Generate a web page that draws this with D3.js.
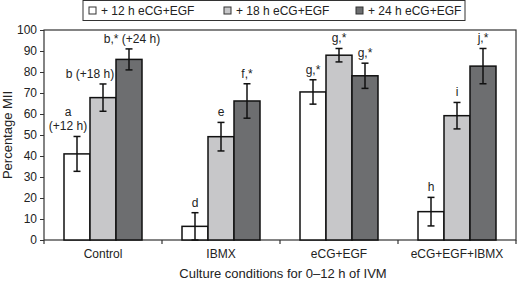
<!DOCTYPE html>
<html>
<head>
<meta charset="utf-8">
<script src="https://cdn.jsdelivr.net/npm/d3@7"></script>
<style>
  body { margin: 0; background: #fff; }
  svg { font-family: "Liberation Sans", Arial, sans-serif; }
</style>
</head>
<body>
<script>
      var w = 518; // width of SVG space
      var h = 281; // height of SVG space

      // categories and series
      var categories = ["Control", "IBMX", "eCG+EGF", "eCG+EGF+IBMX"];
      var series = ["+ 12 h eCG+EGF", "+ 18 h eCG+EGF", "+ 24 h eCG+EGF"];
      // mean values per series (one per category)
      var mean12 = [41, 6.5, 70.5, 13.5];
      var mean18 = [67.8, 49.2, 88, 59.2];
      var mean24 = [86, 66.2, 78.2, 82.8];
      // error bar half-lengths
      var err12 = [8.3, 6.5, 5.8, 6.8];
      var err18 = [6.5, 6.8, 3.2, 6.3];
      var err24 = [5, 8.2, 6, 8.4];
      // significance letters above the bars
      var labels12 = [["a", "(+12 h)"], ["d"], ["g,*"], ["h"]];
      var labels18 = [["b (+18 h)"], ["e"], ["g,*"], ["i"]];
      var labels24 = [["b,* (+24 h)"], ["f,*"], ["g,*"], ["j,*"]];
      var yTicks = [0, 10, 20, 30, 40, 50, 60, 70, 80, 90, 100];

      var fills = ["#ffffff", "#c7c7c9", "#6d6e70"];
      var means = [mean12, mean18, mean24];
      var errs = [err12, err18, err24];
      var labs = [labels12, labels18, labels24];
      // small nudges so the labels sit like in the figure
      var labelDx = [[-9, 0, 0, 0], [-13, 0, 0, 0], [3, 0, 0, 0]];

      var pLeft = 44, pRight = 516, pTop = 30, pBottom = 240;

      var svg = d3.select("body").append("svg").attr("width", w).attr("height", h);

      var x0 = d3.scaleBand().domain(categories).range([pLeft, pRight]);
      var x1 = d3.scaleBand().domain(d3.range(series.length)).range([20, x0.bandwidth() - 20]);
      var yScale = d3.scaleLinear().domain([0, 100]).range([pBottom, pTop]);

      // plot frame
      svg.append("rect").attr("x", pLeft).attr("y", pTop)
          .attr("width", pRight - pLeft).attr("height", pBottom - pTop)
          .style("fill", "none").style("stroke", "#333").style("stroke-width", 1.2);

      // bars, error bars, labels
      var data = [];
      categories.forEach(function (c, i) {
          series.forEach(function (s, j) {
              data.push({cat: c, ci: i, s: j, v: means[j][i], e: errs[j][i], lab: labs[j][i]});
          });
      });

      var g = svg.append("g");
      g.selectAll("rect.bar").data(data).enter().append("rect")
          .attr("class", "bar")
          .attr("x", function (d) { return x0(d.cat) + x1(d.s); })
          .attr("y", function (d) { return yScale(d.v); })
          .attr("width", x1.bandwidth())
          .attr("height", function (d) { return yScale(0) - yScale(d.v); })
          .style("fill", function (d) { return fills[d.s]; })
          .style("stroke", "#111")
          .style("stroke-width", 1.5);

      var cx = function (d) { return x0(d.cat) + x1(d.s) + x1.bandwidth() / 2; };
      var eb = g.selectAll("g.err").data(data).enter().append("g").attr("class", "err")
          .style("stroke", "#111").style("stroke-width", 1.5);
      eb.append("line")
          .attr("x1", cx).attr("x2", cx)
          .attr("y1", function (d) { return yScale(Math.max(0, d.v - d.e)); })
          .attr("y2", function (d) { return yScale(d.v + d.e); });
      eb.append("line")
          .attr("x1", function (d) { return cx(d) - 3.5; }).attr("x2", function (d) { return cx(d) + 3.5; })
          .attr("y1", function (d) { return yScale(d.v + d.e); })
          .attr("y2", function (d) { return yScale(d.v + d.e); });
      eb.append("line")
          .attr("x1", function (d) { return cx(d) - 3.5; }).attr("x2", function (d) { return cx(d) + 3.5; })
          .attr("y1", function (d) { return yScale(Math.max(0, d.v - d.e)); })
          .attr("y2", function (d) { return yScale(Math.max(0, d.v - d.e)); });

      var lt = g.selectAll("text.lab").data(data).enter().append("text")
          .attr("class", "lab")
          .attr("text-anchor", "middle")
          .style("font-size", "12px")
          .style("fill", "#222")
          .attr("x", function (d) { return cx(d) + labelDx[d.s][d.ci]; })
          .attr("y", function (d) { return yScale(d.v + d.e) - 6 - (d.lab.length - 1) * 14; });
      lt.each(function (d) {
          var t = d3.select(this);
          d.lab.forEach(function (l, k) {
              t.append("tspan").attr("x", cx(d) + labelDx[d.s][d.ci]).attr("dy", k ? 14 : 0).text(l);
          });
      });

      // axes
      var yAxis = d3.axisLeft(yScale).tickValues(yTicks).tickSize(4).tickPadding(3);
      var ya = svg.append("g").attr("transform", "translate(" + pLeft + ",0)").call(yAxis);
      ya.select(".domain").remove();
      ya.selectAll("text").style("font-size", "12px").style("fill", "#222").style("font-family", "Liberation Sans, Arial, sans-serif");
      ya.selectAll("line").style("stroke", "#333");

      var bounds = categories.map(function (c) { return x0(c); }).concat([pRight]);
      svg.selectAll("line.xt").data(bounds).enter().append("line")
          .attr("x1", function (d) { return d; }).attr("x2", function (d) { return d; })
          .attr("y1", pBottom).attr("y2", pBottom + 4)
          .style("stroke", "#333").style("stroke-width", 1.2);
      svg.selectAll("text.xl").data(categories).enter().append("text")
          .attr("x", function (d) { return x0(d) + x0.bandwidth() / 2; })
          .attr("y", 258)
          .attr("text-anchor", "middle")
          .style("font-size", "12px").style("fill", "#222")
          .text(function (d) { return d; });

      svg.append("text").attr("x", 283).attr("y", 278).attr("text-anchor", "middle")
          .style("font-size", "13px").style("fill", "#222")
          .text("Culture conditions for 0\u201312 h of IVM");
      svg.append("text").attr("transform", "translate(12," + ((pTop + pBottom) / 2) + ") rotate(-90)")
          .attr("text-anchor", "middle")
          .style("font-size", "13px").style("fill", "#222")
          .text("Percentage MII");

      // legend
      var leg = svg.append("g");
      leg.append("rect").attr("x", 83).attr("y", 0.5).attr("width", 382).attr("height", 20)
          .style("fill", "#fff").style("stroke", "#333").style("stroke-width", 1);
      var legX = [89, 224, 356];
      var li = leg.selectAll("g.li").data(series).enter().append("g")
          .attr("transform", function (d, i) { return "translate(" + legX[i] + ",0)"; });
      li.append("rect").attr("x", 0).attr("y", 7).attr("width", 7).attr("height", 7)
          .style("fill", function (d, i) { return fills[i]; })
          .style("stroke", "#333").style("stroke-width", 1);
      li.append("text").attr("x", 12).attr("y", 15)
          .style("font-size", "12px").style("fill", "#222")
          .text(function (d) { return d; });
</script>
</body>
</html>
